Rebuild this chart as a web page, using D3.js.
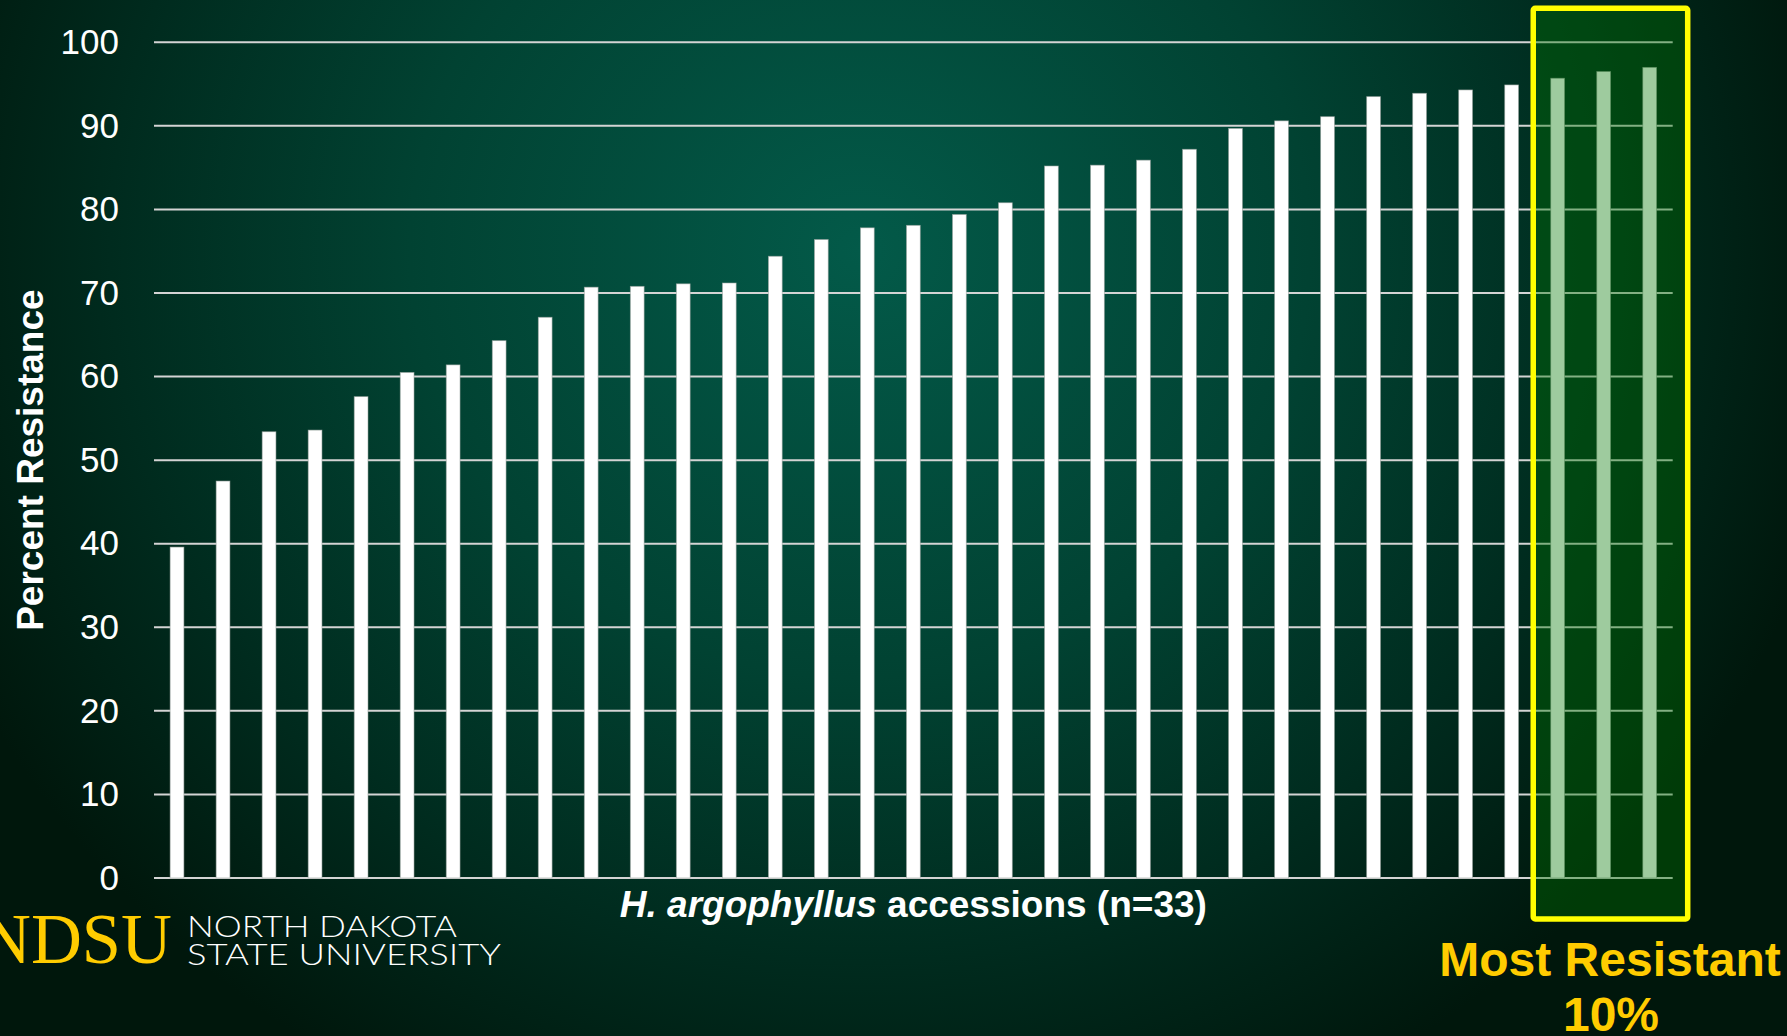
<!DOCTYPE html>
<html>
<head>
<meta charset="utf-8">
<script src="https://cdn.jsdelivr.net/npm/d3@7"></script>
<style>
  html, body { margin: 0; padding: 0; background: #002014; overflow: hidden; }
  svg { display: block; }
</style>
</head>
<body>
<svg id="chart" width="1787" height="1036"></svg>
<script>
// Accessions, ranked from least to most resistant
const accessions = [1, 2, 3, 4, 5, 6, 7, 8, 9, 10, 11, 12, 13, 14, 15, 16, 17,
                    18, 19, 20, 21, 22, 23, 24, 25, 26, 27, 28, 29, 30, 31, 32, 33];
const resistance = [39.6, 47.5, 53.4, 53.6, 57.6, 60.5, 61.4, 64.3, 67.1, 70.7, 70.8,
                    71.1, 71.2, 74.4, 76.4, 77.8, 78.1, 79.4, 80.8, 85.2, 85.3, 85.9,
                    87.2, 89.7, 90.6, 91.1, 93.5, 93.9, 94.3, 94.9, 95.7, 96.5, 97.0];
const yTicks = [0, 10, 20, 30, 40, 50, 60, 70, 80, 90, 100];
// Top 10% of the accessions (the last three ranks)
const topAccessions = [31, 32, 33];

const W = 1787, H = 1036;
const svg = d3.select("#chart");
const font = "'Liberation Sans', Arial, Helvetica, sans-serif";

// Background: dark green radial glow
const defs = svg.append("defs");
const bg = defs.append("radialGradient")
  .attr("id", "bg")
  .attr("gradientUnits", "userSpaceOnUse")
  .attr("cx", 860).attr("cy", 250).attr("r", 1000)
  .attr("gradientTransform", "translate(860,250) scale(1,0.95) translate(-860,-250)");
bg.append("stop").attr("offset", 0).attr("stop-color", "#035a49");
bg.append("stop").attr("offset", 0.45).attr("stop-color", "#014232");
bg.append("stop").attr("offset", 0.75).attr("stop-color", "#002b1e");
bg.append("stop").attr("offset", 1).attr("stop-color", "#00170c");
svg.append("rect").attr("width", W).attr("height", H).attr("fill", "url(#bg)");

// Scales
const x = d3.scaleBand()
  .domain(accessions)
  .range([154, 1672.7])
  .paddingInner(0.7)
  .paddingOuter(0.35);
const y = d3.scaleLinear().domain([0, 100]).range([878, 42.3]);

// Gridlines (including the zero line)
svg.append("g")
  .selectAll("line")
  .data(yTicks)
  .join("line")
  .attr("x1", x.range()[0])
  .attr("x2", x.range()[1])
  .attr("y1", d => y(d))
  .attr("y2", d => y(d))
  .attr("stroke", "#d4d4d4")
  .attr("stroke-width", 2);

// Y axis labels
const yAxis = svg.append("g")
  .attr("transform", `translate(${x.range()[0]},0)`)
  .call(d3.axisLeft(y).tickValues(yTicks).tickSize(0).tickPadding(35));
yAxis.select(".domain").remove();
yAxis.selectAll("text")
  .attr("fill", "#ffffff")
  .style("font-family", font)
  .style("font-size", "35px");

// Bars
svg.append("g")
  .selectAll("rect")
  .data(accessions)
  .join("rect")
  .attr("x", d => x(d))
  .attr("width", x.bandwidth())
  .attr("y", (d, i) => y(resistance[i]))
  .attr("height", (d, i) => y(0) - y(resistance[i]))
  .attr("fill", "#ffffff")
  .attr("stroke", "rgba(150,160,155,0.7)")
  .attr("stroke-width", 0.8);

// Highlight box around the most resistant accessions
const hx0 = x(topAccessions[0]) - 17.5;
const hx1 = x.range()[1] + 15;
const hy0 = y(100) - 34;
const hy1 = y(0) + 41;
svg.append("rect")
  .attr("x", hx0).attr("y", hy0)
  .attr("width", hx1 - hx0).attr("height", hy1 - hy0)
  .attr("rx", 2)
  .attr("fill", "rgb(0,118,0)")
  .attr("fill-opacity", 0.38)
  .attr("stroke", "#ffff00")
  .attr("stroke-width", 5.5);

// Axis titles
svg.append("text")
  .attr("transform", `translate(43,${(y(0) + y(100)) / 2}) rotate(-90)`)
  .attr("text-anchor", "middle")
  .attr("fill", "#ffffff")
  .style("font-family", font)
  .style("font-weight", "bold")
  .style("font-size", "37px")
  .text("Percent Resistance");

const xTitle = svg.append("text")
  .attr("x", (x.range()[0] + x.range()[1]) / 2)
  .attr("y", 917)
  .attr("text-anchor", "middle")
  .attr("fill", "#ffffff")
  .style("font-family", font)
  .style("font-weight", "bold")
  .style("font-size", "37px");
xTitle.append("tspan").style("font-style", "italic").text("H. argophyllus");
xTitle.append("tspan").text(" accessions (n=33)");

// Callout below the highlight box
const callout = svg.append("text")
  .attr("text-anchor", "middle")
  .attr("fill", "#ffcc00")
  .style("font-family", font)
  .style("font-weight", "bold")
  .style("font-size", "48px");
callout.append("tspan").attr("x", 1610).attr("y", 976).text("Most Resistant");
callout.append("tspan").attr("x", 1611).attr("y", 1031).text("10%");

// University wordmark
svg.append("text")
  .attr("x", -20).attr("y", 963)
  .attr("fill", "#ffcc00")
  .attr("textLength", 192)
  .attr("lengthAdjust", "spacingAndGlyphs")
  .style("font-family", "'Liberation Serif', 'Times New Roman', serif")
  .style("font-size", "72px")
  .text("NDSU");
const uni = svg.append("g")
  .attr("fill", "#ffffff")
  .style("font-family", "Lato, 'Open Sans', sans-serif")
  .style("font-weight", "300")
  .style("font-size", "29px");
uni.append("text").attr("x", 187).attr("y", 937)
  .attr("textLength", 270).attr("lengthAdjust", "spacingAndGlyphs")
  .text("NORTH DAKOTA");
uni.append("text").attr("x", 187).attr("y", 965)
  .attr("textLength", 314).attr("lengthAdjust", "spacingAndGlyphs")
  .text("STATE UNIVERSITY");
</script>
</body>
</html>
